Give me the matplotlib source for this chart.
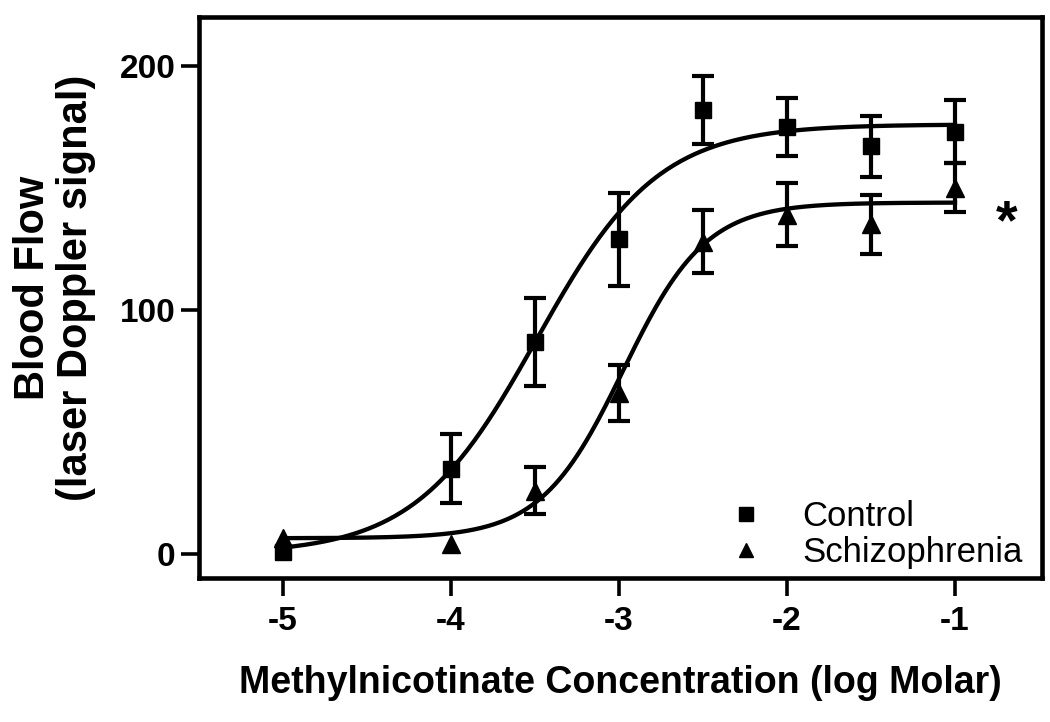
import numpy as np
import matplotlib
matplotlib.use("Agg")
import matplotlib.pyplot as plt
from matplotlib.lines import Line2D

plt.rcParams['font.family'] = ['Liberation Sans', 'DejaVu Sans']
plt.rcParams['axes.unicode_minus'] = False

# log molar concentrations
conc = [-5, -4, -3.5, -3, -2.5, -2, -1.5, -1]

control = [1, 35, 87, 129, 182, 175, 167, 173]
control_err = [0, 14, 18, 19, 14, 12, 12.5, 13]   # 0 = bar hidden behind symbol

schizo = [6.5, 4, 26, 66, 128, 139, 135, 150]
schizo_err = [0, 0, 9.5, 11.5, 13, 13, 12, 10]

# sigmoid fit parameters: bottom, top, logEC50, hill slope
control_fit = (0, 176, -3.49, 1.2)
schizo_fit = (6.5, 144, -2.975, 1.77)

xticks = [-5, -4, -3, -2, -1]
yticks = [0, 100, 200]


def sigmoid(x, p):
    bottom, top, ec50, hill = p
    return bottom + (top - bottom) / (1 + 10 ** ((ec50 - x) * hill))


fig = plt.figure(figsize=(10.5, 7.22), dpi=100)
ax = fig.add_axes([0.1895, 0.1994, 0.8029, 0.7771])

xs = np.linspace(conc[0], conc[-1], 300)
ax.plot(xs, sigmoid(xs, control_fit), color='black', lw=3.1, zorder=2)
ax.plot(xs, sigmoid(xs, schizo_fit), color='black', lw=3.1, zorder=2)


def draw_series(y, err, marker, ms):
    ax.plot(conc, y, marker=marker, ls='none', color='black', ms=ms, zorder=4)
    idx = [i for i in range(len(conc)) if err[i] > 0]
    e = ax.errorbar([conc[i] for i in idx], [y[i] for i in idx],
                    yerr=[err[i] for i in idx], fmt='none', ecolor='black',
                    elinewidth=3.0, capsize=8, capthick=3.0, zorder=3)
    for cap in e[1]:
        cap.set_solid_capstyle('round')


draw_series(control, control_err, 's', 12)
draw_series(schizo, schizo_err, '^', 12.5)

ax.text(-0.69, 129.5, '*', fontsize=40, fontweight='bold', ha='center', va='baseline')

ax.set_xlim(-5.5, -0.482)
ax.set_ylim(-9.8, 220)
ax.set_xticks(xticks)
ax.set_xticklabels([str(t) for t in xticks])
ax.set_yticks(yticks)
ax.set_yticklabels([str(t) for t in yticks])

for s in ax.spines.values():
    s.set_linewidth(3.3)

ax.tick_params(axis='both', direction='out', length=13, width=2.6, labelsize=24)
ax.tick_params(axis='x', pad=7)
ax.tick_params(axis='y', pad=4)
for lab in ax.get_xticklabels() + ax.get_yticklabels():
    lab.set_fontweight('bold')

ax.set_xlabel('Methylnicotinate Concentration (log Molar)', fontsize=27,
              fontweight='bold', labelpad=20)
fig.text(0.052, 1 - 288 / 722, 'Blood Flow\n(laser Doppler signal)', rotation=90,
         ha='center', va='center', fontsize=30, fontweight='bold',
         multialignment='center', linespacing=1.12)

handles = [Line2D([], [], marker='s', color='black', ls='none', ms=9.5),
           Line2D([], [], marker='^', color='black', ls='none', ms=10)]
ax.legend(handles, ['Control', 'Schizophrenia'], loc='lower right',
          bbox_to_anchor=(0.994, -0.009), borderaxespad=0, frameon=False,
          fontsize=25, handlelength=1.0, handletextpad=1.13, labelspacing=0.1)

fig.savefig('out.png', dpi=100)
